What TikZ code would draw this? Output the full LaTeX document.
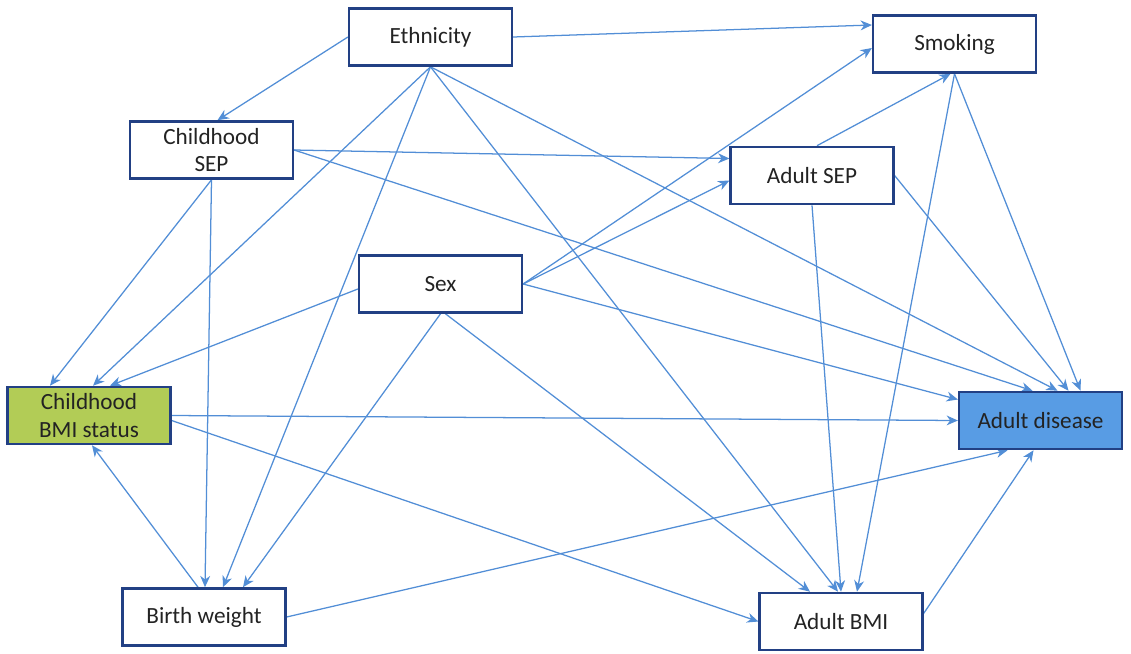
\documentclass[tikz,border=0pt]{standalone}
\usepackage{fontspec}
\setmainfont{Carlito}
\usepackage{tikz}
\usetikzlibrary{arrows.meta}
\usetikzlibrary{positioning}
\usetikzlibrary{backgrounds}
\definecolor{edgeblue}{RGB}{82,142,214}
\definecolor{boxblue}{RGB}{34,64,132}
\definecolor{expgreen}{RGB}{178,204,86}
\definecolor{outblue}{RGB}{88,156,228}
\definecolor{textgrey}{RGB}{35,35,35}
\tikzset{
	>={Stealth[length=8pt,width=7pt,inset=2.5pt]},
	varbox/.style={draw=boxblue, line width=1.7pt, fill=white, text=textgrey,
		minimum width=4.07cm, minimum height=1.43cm, inner sep=0pt, align=center,
		font=\fontsize{16.5}{19.5}\selectfont},
	exposure/.style={varbox, fill=expgreen},
	outcome/.style={varbox, fill=outblue},
	effect/.style={->, draw=edgeblue, line width=0.9pt},
}

\begin{document}
\begin{tikzpicture}[x=0.025cm, y=-0.025cm]
	\useasboundingbox (0,0) rectangle (1131,653);
	% variables
	\node[varbox] (eth) at (430.5,37) {Ethnicity};
	\node[varbox] (smk) at (954.5,44) {Smoking};
	\node[varbox] (csep) at (211.5,150) {Childhood\\SEP};
	\node[varbox] (asep) at (812,175.5) {Adult SEP};
	\node[varbox] (sex) at (440.5,284) {Sex};
	\node[exposure] (cbmi) at (89,415.5) {Childhood\\BMI status};
	\node[outcome] (adis) at (1040.5,420.5) {Adult disease};
	\node[varbox] (bw) at (204,617) {Birth weight};
	\node[varbox] (abmi) at (841,621.5) {Adult BMI};
	% paths
	\begin{scope}[on background layer]
	\draw[effect] (eth.east) -- ([shift={(0,-19)}]smk.west);
	\draw[effect] (eth.west) -- ([shift={(6,0)}]csep.north);
	\draw[effect] (eth.south) -- ([shift={(4,0)}]cbmi.north);
	\draw[effect] (eth.south) -- ([shift={(19,0)}]bw.north);
	\draw[effect] (eth.south) -- ([shift={(-3,0)}]abmi.north);
	\draw[effect] (eth.south) -- ([shift={(17,0)}]adis.north);
	\draw[effect] (csep.east) -- ([shift={(0,-17)}]asep.west);
	\draw[effect] (csep.east) -- ([shift={(-8,0)}]adis.north);
	\draw[effect] (csep.south) -- ([shift={(-39,0)}]cbmi.north);
	\draw[effect] (csep.south) -- ([shift={(1,0)}]bw.north);
	\draw[effect] (sex.east) -- ([shift={(0,4)}]smk.west);
	\draw[effect] (sex.east) -- ([shift={(0,5)}]asep.west);
	\draw[effect] ([shift={(0,5)}]sex.west) -- ([shift={(21,0)}]cbmi.north);
	\draw[effect] (sex.south) -- ([shift={(39,0)}]bw.north);
	\draw[effect] ([shift={(5,0)}]sex.south) -- ([shift={(-31,0)}]abmi.north);
	\draw[effect] (sex.east) -- ([shift={(0,-21)}]adis.west);
	\draw[effect] ([shift={(5,0)}]asep.north) -- ([shift={(-4,0)}]smk.south);
	\draw[effect] (asep.south) -- (abmi.north);
	\draw[effect] (asep.east) -- ([shift={(28,0)}]adis.north);
	\draw[effect] (smk.south) -- ([shift={(40,0)}]adis.north);
	\draw[effect] (smk.south) -- ([shift={(16,0)}]abmi.north);
	\draw[effect] (cbmi.east) -- (adis.west);
	\draw[effect] ([shift={(0,5)}]cbmi.east) -- (abmi.west);
	\draw[effect] ([shift={(-6,0)}]bw.north) -- ([shift={(3,0)}]cbmi.south);
	\draw[effect] (bw.east) -- ([shift={(-33,0)}]adis.south);
	\draw[effect] ([shift={(0,-8)}]abmi.east) -- ([shift={(-7,0)}]adis.south);
	\end{scope}
\end{tikzpicture}
\end{document}
